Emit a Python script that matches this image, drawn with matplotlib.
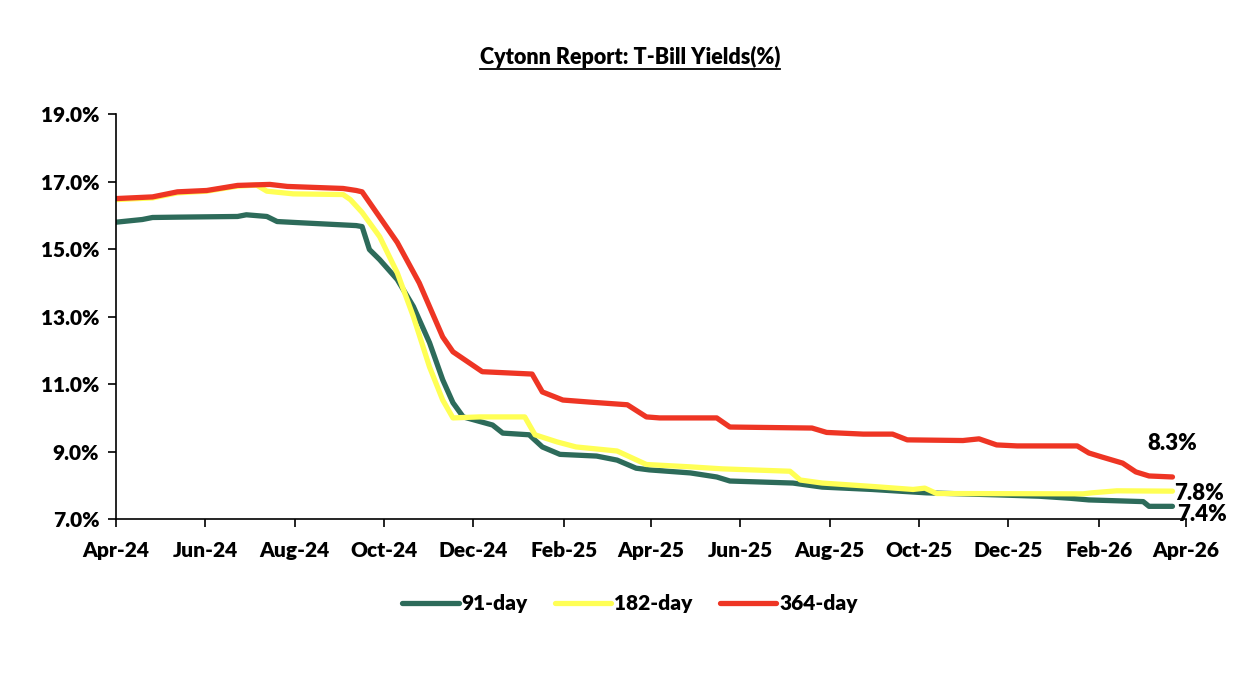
import matplotlib

matplotlib.use("Agg")
import matplotlib.dates as mdates
import matplotlib.pyplot as plt
import pandas as pd
from matplotlib.lines import Line2D
from matplotlib.ticker import FuncFormatter

# 364-day
dates_364 = [
    "2024-04-01", "2024-04-26", "2024-05-13", "2024-06-02", "2024-06-23", "2024-07-15",
    "2024-07-27", "2024-09-03", "2024-09-12", "2024-09-16", "2024-10-10", "2024-10-25",
    "2024-11-01", "2024-11-10", "2024-11-17", "2024-12-07", "2025-01-10", "2025-01-17",
    "2025-01-31", "2025-02-18", "2025-03-16", "2025-03-29", "2025-04-07", "2025-05-16",
    "2025-05-25", "2025-07-20", "2025-07-30", "2025-08-24", "2025-09-13", "2025-09-23",
    "2025-10-31", "2025-11-11", "2025-11-23", "2025-12-07", "2026-01-17", "2026-01-25",
    "2026-02-03", "2026-02-17", "2026-02-26", "2026-03-07", "2026-03-23",
]
yield_364 = [
    16.50, 16.55, 16.70, 16.74, 16.89, 16.92,
    16.86, 16.80, 16.74, 16.70, 15.20, 14.00,
    13.30, 12.40, 11.96, 11.37, 11.30, 10.77,
    10.53, 10.47, 10.39, 10.03, 10.00, 10.00,
    9.73, 9.70, 9.57, 9.52, 9.52, 9.35,
    9.33, 9.38, 9.20, 9.17, 9.17, 8.96,
    8.84, 8.66, 8.40, 8.28, 8.25,
]

# 182-day
dates_182 = [
    "2024-04-01", "2024-04-26", "2024-05-13", "2024-06-02", "2024-06-23", "2024-07-06",
    "2024-07-13", "2024-07-31", "2024-09-03", "2024-09-08", "2024-09-16", "2024-09-28",
    "2024-10-10", "2024-10-21", "2024-11-01", "2024-11-10", "2024-11-17", "2024-12-05",
    "2025-01-05", "2025-01-12", "2025-01-27", "2025-02-09", "2025-03-09", "2025-03-18",
    "2025-03-29", "2025-04-28", "2025-05-20", "2025-07-05", "2025-07-12", "2025-07-27",
    "2025-08-30", "2025-09-27", "2025-10-05", "2025-10-13", "2026-01-21", "2026-01-27",
    "2026-02-13", "2026-03-23",
]
yield_182 = [
    16.47, 16.52, 16.67, 16.72, 16.87, 16.90,
    16.72, 16.64, 16.62, 16.47, 16.09, 15.37,
    14.30, 13.00, 11.51, 10.53, 10.00, 10.03,
    10.03, 9.50, 9.29, 9.14, 9.02, 8.84,
    8.62, 8.55, 8.49, 8.42, 8.16, 8.07,
    7.97, 7.88, 7.92, 7.76, 7.75, 7.78,
    7.84, 7.83,
]

# 91-day
dates_91 = [
    "2024-04-01", "2024-04-19", "2024-04-26", "2024-05-13", "2024-06-23", "2024-06-29",
    "2024-07-13", "2024-07-20", "2024-08-02", "2024-09-12", "2024-09-16", "2024-09-21",
    "2024-09-28", "2024-10-10", "2024-10-21", "2024-11-01", "2024-11-10", "2024-11-17",
    "2024-11-24", "2024-12-14", "2024-12-21", "2025-01-08", "2025-01-17", "2025-01-29",
    "2025-02-23", "2025-03-09", "2025-03-22", "2025-03-31", "2025-04-28", "2025-05-16",
    "2025-05-25", "2025-07-07", "2025-07-27", "2025-08-30", "2025-10-06", "2025-11-23",
    "2025-12-22", "2026-01-12", "2026-01-25", "2026-03-03", "2026-03-07", "2026-03-23",
]
yield_91 = [
    15.80, 15.88, 15.94, 15.95, 15.97, 16.02,
    15.97, 15.82, 15.79, 15.70, 15.67, 14.99,
    14.69, 14.10, 13.30, 12.23, 11.13, 10.45,
    10.03, 9.79, 9.55, 9.50, 9.14, 8.92,
    8.87, 8.75, 8.51, 8.46, 8.37, 8.25,
    8.13, 8.07, 7.95, 7.88, 7.78, 7.72,
    7.68, 7.62, 7.57, 7.52, 7.38, 7.38,
]

y_ticks = [7, 9, 11, 13, 15, 17, 19]
end_labels = ["8.3%", "7.8%", "7.4%"]

GREEN = "#2D6B5A"
YELLOW = "#FFFF55"
RED = "#EE3524"

plt.rcParams["font.family"] = ["Lato", "DejaVu Sans"]
plt.rcParams["font.weight"] = "heavy"

fig = plt.figure(figsize=(12.6, 6.84), dpi=100)
ax = fig.add_axes([0.092, 0.241, 0.849, 0.592])

d91 = pd.to_datetime(dates_91)
d182 = pd.to_datetime(dates_182)
d364 = pd.to_datetime(dates_364)

ax.plot(d91, yield_91, color=GREEN, lw=3.8, solid_capstyle="round", label="91-day")
ax.plot(d182, yield_182, color=YELLOW, lw=3.8, solid_capstyle="round", label="182-day")
ax.plot(d364, yield_364, color=RED, lw=3.8, solid_capstyle="round", label="364-day")

ax.set_xlim(pd.Timestamp("2024-04-01"), pd.Timestamp("2026-04-01"))
ax.set_ylim(7, 19)
ax.set_yticks(y_ticks)
ax.yaxis.set_major_formatter(FuncFormatter(lambda v, _: f"{v:.1f}%"))
ax.xaxis.set_major_locator(mdates.MonthLocator(bymonth=[4, 6, 8, 10, 12, 2]))
ax.xaxis.set_major_formatter(mdates.DateFormatter("%b-%y"))

for side in ("top", "right"):
    ax.spines[side].set_visible(False)
for side in ("left", "bottom"):
    ax.spines[side].set_color("black")
    ax.spines[side].set_linewidth(1.2)
ax.tick_params(axis="both", direction="out", length=6, width=1.2, labelsize=15)
ax.tick_params(axis="x", pad=10)
ax.tick_params(axis="y", pad=6)
for lbl in ax.get_xticklabels() + ax.get_yticklabels():
    lbl.set_fontweight("heavy")

# end-of-series labels
ax.annotate(end_labels[0], (d364[-1], yield_364[-1]), xytext=(-18, 24),
            textcoords="offset points", fontsize=16, fontweight="heavy", va="center")
ax.annotate(end_labels[1], (d182[-1], yield_182[-1]), xytext=(1, -2),
            textcoords="offset points", fontsize=16, fontweight="heavy", va="center")
ax.annotate(end_labels[2], (d91[-1], yield_91[-1]), xytext=(3, -6),
            textcoords="offset points", fontsize=16, fontweight="heavy", va="center")

title = fig.text(0.5, 0.916, "Cytonn Report: T-Bill Yields(%)", ha="center", va="center",
                 fontsize=15.5, fontweight="heavy")
fig.canvas.draw()
bb = title.get_window_extent().transformed(fig.transFigure.inverted())
fig.add_artist(Line2D([bb.x0, bb.x1], [bb.y0 - 0.001, bb.y0 - 0.001], color="black",
                      lw=1.3, transform=fig.transFigure))

leg = fig.legend(loc="center", bbox_to_anchor=(0.5, 0.117), ncol=3, frameon=False,
                 fontsize=15, handlelength=2.7, handletextpad=0.15, columnspacing=1.3)
for t in leg.get_texts():
    t.set_fontweight("heavy")

fig.savefig("out.png", dpi=100, facecolor="white")
